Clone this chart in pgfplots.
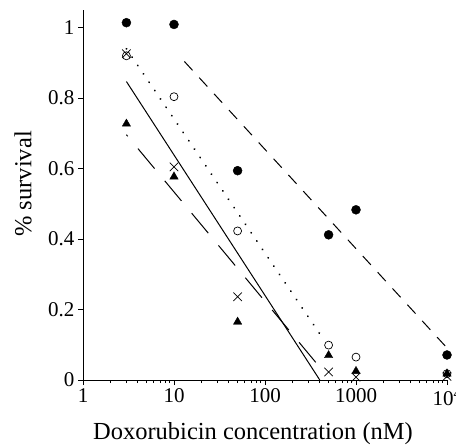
\documentclass[border=0pt]{standalone}
\usepackage{pgfplots}
\pgfplotsset{compat=1.18}
\usepackage{fontspec}
\setmainfont{Liberation Serif}
\begin{document}
\begin{tikzpicture}
\begin{axis}[name=ax,
  scale only axis, width=364pt, height=370pt,
  xmode=log, xmin=1, xmax=10000, ymin=0, ymax=1.05,
  axis lines=left, axis line style={line width=1pt, -},
  tick align=outside, major tick length=5pt, minor tick length=3pt,
  every tick/.style={black, line width=0.8pt},
  xtick={1,10,100,1000,10000}, xticklabels={1,10,100,1000,10\textsuperscript{4}},
  ytick={0,0.2,0.4,0.6,0.8,1}, yticklabels={0,0.2,0.4,0.6,0.8,1},
  /pgf/number format/assume math mode=true,
  ticklabel style={font=\fontsize{21}{25}\selectfont},
  xlabel={Doxorubicin concentration (nM)},
  ylabel={\% survival},
  label style={font=\fontsize{24.5}{28}\selectfont},
  xlabel style={at={(axis description cs:0.467,-0.162)}, anchor=base},
  ylabel style={at={(axis description cs:-0.165,0.53)}, anchor=center},
  clip=false,
]
\addplot[only marks, mark=*, mark size=4.5pt] coordinates {(3,1.014)(10,1.009)(50,0.594)(500,0.412)(1000,0.483)(10000,0.071)};
\addplot[only marks, mark=o, mark size=4pt, mark options={line width=0.7pt}] coordinates {(3,0.92)(10,0.804)(50,0.423)(500,0.099)(1000,0.065)(10000,0.018)};
\addplot[only marks, mark=triangle*, mark size=4.8pt] coordinates {(3,0.727)(10,0.577)(50,0.165)(500,0.07)(1000,0.025)(10000,0.018)};
\addplot[only marks, mark=x, mark size=6pt, mark options={line width=0.7pt}] coordinates {(3,0.926)(10,0.605)(50,0.236)(500,0.023)(1000,0.008)(10000,0.01)};
\addplot[no marks, line width=1pt, dash pattern=on 12pt off 10pt] coordinates {(13,0.904)(10000,0.091)};
\addplot[no marks, line width=2pt, line cap=round, dash pattern=on 0.1pt off 10pt] coordinates {(3,0.94)(430,0.119)};
\addplot[no marks, line width=1pt] coordinates {(3,0.847)(400,0)};
\addplot[no marks, line width=1pt, dash pattern=on 26pt off 16pt, dash phase=24pt] coordinates {(3,0.696)(395,0.038)};
\end{axis}
\pgfresetboundingbox
\path[use as bounding box] ([shift={(-83pt,-64pt)}]ax.south west) rectangle ([shift={(9pt,10pt)}]ax.north east);
\end{tikzpicture}
\end{document}
